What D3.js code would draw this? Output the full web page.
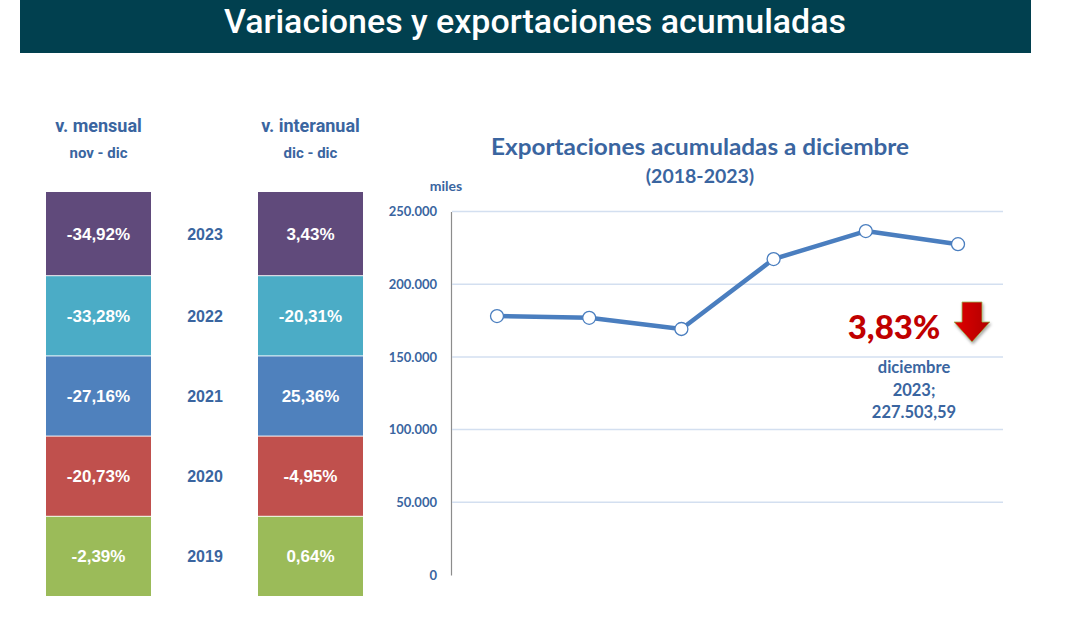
<!DOCTYPE html>
<html><head><meta charset="utf-8">
<script src="https://cdn.jsdelivr.net/npm/d3@7"></script>
<style>body{margin:0;background:#fff}svg{display:block}</style>
</head><body><svg id="c" width="1080" height="617"></svg>
<script>
const years = ["2023","2022","2021","2020","2019"];
const mensual = ["-34,92%","-33,28%","-27,16%","-20,73%","-2,39%"];
const interanual = ["3,43%","-20,31%","25,36%","-4,95%","0,64%"];
const boxColors = ["#604A7B","#4BACC6","#4F81BD","#C0504D","#9BBB59"];
const lineYears = ["2018","2019","2020","2021","2022","2023"];
const lineValues = [178100, 176900, 169200, 217300, 236560, 227503.59];
const yTicks = [0, 50000, 100000, 150000, 200000, 250000];

const svg = d3.select("#c");
const blue = "#3A65A0";
const sans = "'Liberation Sans', Arial, sans-serif";

// title bar
svg.append("rect").attr("x",20).attr("y",0).attr("width",1011).attr("height",53).attr("fill","#01404F");
svg.append("text").attr("x",535).attr("y",33).attr("text-anchor","middle")
  .attr("font-family","Roboto").attr("font-weight",500).attr("font-size",34)
  .attr("fill","#fff").attr("textLength",622).attr("lengthAdjust","spacingAndGlyphs")
  .text("Variaciones y exportaciones acumuladas");

// left tables
const rowY = d3.scaleBand().domain(years).range([196,596]).paddingInner(0.012);
const cols = [{x:46,vals:mensual,h1:"v. mensual",h2:"nov - dic"},{x:258,vals:interanual,h1:"v. interanual",h2:"dic - dic"}];
const bw = 105;
const rowTop = (d,i) => rowY(d) - (i===0 ? 4 : 0);
const rowH = (d,i) => rowY.bandwidth() + (i===0 ? 4 : 0);
cols.forEach(c=>{
  svg.append("text").attr("x",c.x+bw/2).attr("y",132).attr("text-anchor","middle")
    .attr("font-family","Roboto").attr("font-weight","bold").attr("font-size",18).attr("fill",blue).text(c.h1);
  svg.append("text").attr("x",c.x+bw/2).attr("y",158).attr("text-anchor","middle")
    .attr("font-family","Roboto").attr("font-weight","bold").attr("font-size",15).attr("fill",blue).text(c.h2);
  const g = svg.append("g");
  g.selectAll("rect").data(years).join("rect")
    .attr("x",c.x).attr("y",rowTop).attr("width",bw).attr("height",rowH)
    .attr("fill",(d,i)=>boxColors[i]);
  g.selectAll("text").data(years).join("text")
    .attr("x",c.x+bw/2).attr("y",(d,i)=>rowTop(d,i)+rowH(d,i)/2+6).attr("text-anchor","middle")
    .attr("font-family",sans).attr("font-weight","bold").attr("font-size",17).attr("fill","#fff")
    .text((d,i)=>c.vals[i]);
});
svg.append("g").selectAll("text").data(years).join("text")
  .attr("x",205).attr("y",(d,i)=>rowTop(d,i)+rowH(d,i)/2+6).attr("text-anchor","middle")
  .attr("font-family",sans).attr("font-weight","bold").attr("font-size",16).attr("fill",blue)
  .text(d=>d);

// line chart
const x = d3.scalePoint().domain(lineYears).range([497,958]);
const y = d3.scaleLinear().domain([0,250000]).range([575,211.5]);
const fmt = v => d3.format(",")(v).replace(/,/g,".");
const axisG = svg.append("g").attr("transform","translate(451,0)");
axisG.call(d3.axisLeft(y).tickValues(yTicks).tickSize(0).tickPadding(14).tickFormat(fmt));
axisG.select(".domain").attr("stroke","#8c8c8c").attr("stroke-width",1.2);
axisG.selectAll(".tick text").attr("font-family","Lato, Carlito, sans-serif").attr("font-weight","bold")
  .attr("font-size",13).attr("fill",blue);
svg.append("g").selectAll("line").data(yTicks.filter(t=>t>0)).join("line")
  .attr("x1",452).attr("x2",1003).attr("y1",d=>y(d)).attr("y2",d=>y(d))
  .attr("stroke","#D3DFF0").attr("stroke-width",1.5);

svg.append("text").attr("x",700).attr("y",155).attr("text-anchor","middle")
  .attr("font-family","Lato, sans-serif").attr("font-weight","bold").attr("font-size",22).attr("fill",blue)
  .attr("textLength",418).attr("lengthAdjust","spacingAndGlyphs").text("Exportaciones acumuladas a diciembre");
svg.append("text").attr("x",700).attr("y",183).attr("text-anchor","middle")
  .attr("font-family","Lato, sans-serif").attr("font-weight","bold").attr("font-size",19.5).attr("fill",blue)
  .text("(2018-2023)");
svg.append("text").attr("x",446).attr("y",191).attr("text-anchor","middle")
  .attr("font-family","Lato, sans-serif").attr("font-weight","bold").attr("font-size",14).attr("fill",blue).text("miles");

const line = d3.line().x((d,i)=>x(lineYears[i])).y(d=>y(d));
svg.append("path").datum(lineValues).attr("d",line).attr("fill","none")
  .attr("stroke","#4A7EBF").attr("stroke-width",4.5).attr("stroke-linejoin","round");
svg.append("g").selectAll("circle").data(lineValues).join("circle")
  .attr("cx",(d,i)=>x(lineYears[i])).attr("cy",d=>y(d)).attr("r",6.5)
  .attr("fill","#fff").attr("stroke","#4A7EBF").attr("stroke-width",1.3);

// annotation
svg.append("text").attr("x",894).attr("y",339).attr("text-anchor","middle")
  .attr("font-family","Lato, sans-serif").attr("font-weight",900).attr("font-size",33).attr("fill","#C00000").text("3,83%");
const defs = svg.append("defs");
const f = defs.append("filter").attr("id","sh").attr("x","-30%").attr("y","-30%").attr("width","160%").attr("height","160%");
f.append("feDropShadow").attr("dx",1).attr("dy",2).attr("stdDeviation",1.5).attr("flood-color","#000").attr("flood-opacity",0.35);
const gr = defs.append("linearGradient").attr("id","ag").attr("x1",0).attr("x2",1).attr("y1",0).attr("y2",0);
gr.append("stop").attr("offset","0").attr("stop-color","#E00000");
gr.append("stop").attr("offset","1").attr("stop-color","#B00000");
svg.append("path").attr("d","M962,302 L982,302 L982,322 L990,322 L972,342 L954,322 L962,322 Z")
  .attr("fill","url(#ag)").attr("stroke","#9BBB59").attr("stroke-width",0.8).attr("filter","url(#sh)");
const ann = ["diciembre","2023;","227.503,59"];
svg.append("g").selectAll("text").data(ann).join("text")
  .attr("x",914).attr("y",(d,i)=>373+i*22.5).attr("text-anchor","middle")
  .attr("font-family","Lato, sans-serif").attr("font-weight","bold").attr("font-size",16.5).attr("fill",blue).text(d=>d);
</script></body></html>
